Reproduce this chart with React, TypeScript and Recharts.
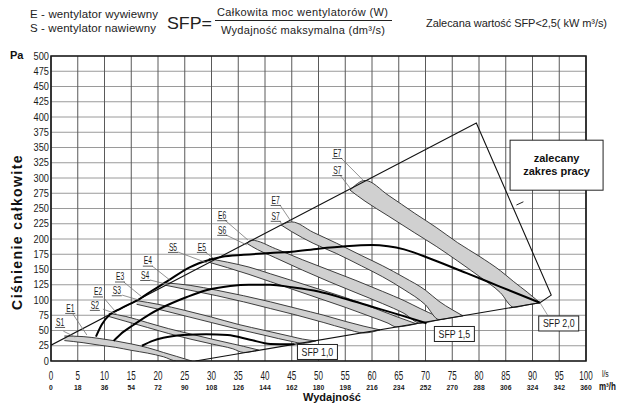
import React from 'react';
import {
  ComposedChart,
  Line,
  Area,
  XAxis,
  YAxis,
  CartesianGrid,
  ReferenceLine,
  ReferenceDot,
  ReferenceArea,
} from 'recharts';

// ---------- axis data ----------
const flowTicks = [0, 5, 10, 15, 20, 25, 30, 35, 40, 45, 50, 55, 60, 65, 70, 75, 80, 85, 90, 95, 100];
const flowM3h = ['0', '18', '36', '54', '72', '90', '108', '126', '144', '162', '180', '198', '216', '234', '252', '270', '288', '306', '324', '342', '360'];
const pressureTicks = [0, 25, 50, 75, 100, 125, 150, 175, 200, 225, 250, 275, 300, 325, 350, 375, 400, 425, 450, 475, 500];

// ---------- recommended working range boundary ----------
const rangeBoundary = [
  { x: 0, y: 26 },
  { x: 79.5, y: 390 },
  { x: 93.5, y: 108 },
  { x: 91.4, y: 95.5 },
  { x: 27, y: 0 },
];
const boundaryMark = [[87.0, 255.7], [88.3, 261]];
const sfp20Leader = [[91.4, 95.5], [92.9, 74]];

// ---------- SFP iso-lines ----------
const sfp20 = [
  { x: 8.4, y: 40 }, { x: 9.5, y: 60 }, { x: 11, y: 76 }, { x: 13, y: 86 }, { x: 16.6, y: 102 },
  { x: 19, y: 116 }, { x: 21.6, y: 130 }, { x: 26, y: 154 }, { x: 29.7, y: 166 }, { x: 32, y: 171 },
  { x: 36, y: 174 }, { x: 41, y: 177 }, { x: 45, y: 179 }, { x: 50, y: 184 }, { x: 55, y: 188 },
  { x: 60, y: 190 }, { x: 63, y: 188 }, { x: 66, y: 183 }, { x: 71.4, y: 166 }, { x: 77.7, y: 144 },
  { x: 83.9, y: 122 }, { x: 91.4, y: 95.5 },
];
const sfp15 = [
  { x: 11.7, y: 33 }, { x: 13, y: 44 }, { x: 15.4, y: 59 }, { x: 18.5, y: 77 }, { x: 21.6, y: 91 },
  { x: 25.4, y: 105 }, { x: 29, y: 116 }, { x: 33.5, y: 123 }, { x: 37, y: 125 }, { x: 41, y: 125 },
  { x: 45, y: 121 }, { x: 50, y: 114 }, { x: 55, y: 102 }, { x: 60, y: 89 }, { x: 65, y: 76 }, { x: 70.2, y: 62 },
];
const sfp10 = [
  { x: 17, y: 25 }, { x: 19, y: 33 }, { x: 21, y: 38 }, { x: 24.7, y: 42.5 }, { x: 29, y: 44 },
  { x: 33, y: 42.5 }, { x: 37.2, y: 35 }, { x: 41, y: 28 }, { x: 45.5, y: 27.5 },
];

// ---------- fan curve bands (S lower edge, E upper edge) ----------
const band1 = [
  { x: 2.5, r: [33.5, 41] }, { x: 6, r: [30, 40] }, { x: 9, r: [26, 37] }, { x: 12, r: [22.5, 33] },
  { x: 15, r: [17.5, 28] }, { x: 18, r: [13, 22] }, { x: 21, r: [7, 14] }, { x: 23.5, r: [0, 7.5] }, { x: 26.3, r: [0, 0] },
];
const band2 = [
  { x: 10.8, r: [73, 78] }, { x: 14, r: [65, 73] }, { x: 18, r: [55, 63] }, { x: 22, r: [45, 53] },
  { x: 26, r: [36, 44.5] }, { x: 30, r: [28, 36] }, { x: 34, r: [20, 28] }, { x: 36, r: [14, 24] }, { x: 38.8, r: [18, 18] },
];
const band3 = [
  { x: 16, r: [93, 99] }, { x: 20, r: [85, 93] }, { x: 25, r: [74, 83] }, { x: 30, r: [63, 72] },
  { x: 35, r: [52, 60] }, { x: 40, r: [42, 50] }, { x: 45, r: [32, 40] }, { x: 47, r: [29, 36] }, { x: 49.5, r: [33, 33] },
];
const band4 = [
  { x: 21.5, r: [124, 128] }, { x: 26, r: [116, 124] }, { x: 31, r: [107, 116] }, { x: 36, r: [97, 107] },
  { x: 41, r: [86, 97] }, { x: 46, r: [75, 86] }, { x: 51, r: [63, 75] }, { x: 55, r: [53, 65] },
  { x: 58.5, r: [46, 57] }, { x: 61.5, r: [51, 51] },
];
const band5 = [
  { x: 29.5, r: [162, 168] }, { x: 33, r: [153, 162] }, { x: 37, r: [142, 154] }, { x: 41, r: [130, 143] },
  { x: 45, r: [118, 132] }, { x: 50, r: [103, 118] }, { x: 55, r: [88, 104] }, { x: 60, r: [72, 88] },
  { x: 63, r: [62, 78] }, { x: 64.5, r: [56, 73] }, { x: 68.3, r: [61, 61] },
];
const band6 = [
  { x: 36.6, r: [193, 193] }, { x: 37.5, r: [188, 198] }, { x: 42, r: [169, 184] }, { x: 47, r: [149, 166] },
  { x: 52, r: [130, 149] }, { x: 57, r: [112, 132] }, { x: 62, r: [94, 114] }, { x: 66, r: [78, 99] },
  { x: 69, r: [62, 86] }, { x: 72, r: [66.5, 74] }, { x: 73.5, r: [69, 69] },
];
const band7a = [
  { x: 43, r: [223, 223] }, { x: 45, r: [212, 228] }, { x: 49, r: [193, 211] }, { x: 53.4, r: [176, 193] },
  { x: 58, r: [156, 173] }, { x: 62, r: [138, 156] }, { x: 66, r: [117, 137] }, { x: 70, r: [92, 116] },
  { x: 72.5, r: [68, 98] }, { x: 75, r: [71, 84] }, { x: 77, r: [74, 74] },
];
const band7b = [
  { x: 55.9, r: [280, 280] }, { x: 58.7, r: [262, 296] }, { x: 63, r: [238, 272] }, { x: 68, r: [210, 242] },
  { x: 72, r: [188, 219] }, { x: 76, r: [164, 194] }, { x: 80, r: [139, 172] }, { x: 84, r: [112, 148] },
  { x: 86.5, r: [88, 130] }, { x: 89, r: [92, 113] }, { x: 91.4, r: [95.5, 95.5] },
];
const bands = [band1, band2, band3, band4, band5, band6, band7a, band7b];

// ---------- fan labels (text position + leader line) ----------
const fanLabels = ['S1', 'E1', 'E2', 'S2', 'E3', 'S3', 'E4', 'S4', 'S5', 'E5', 'E6', 'S6', 'E7', 'S7', 'E7', 'S7'];
const fanLabelPos = [
  [1.7, 64], [3.6, 87], [8.8, 114], [8.2, 92], [12.9, 138.5], [12.3, 116], [18.1, 164.5], [17.6, 141],
  [22.8, 187], [28.2, 187], [32, 239], [32, 215], [42, 264], [42, 238], [53.5, 341], [53.5, 313],
];
const fanLeaders = [
  [[2.3, 49], [4.5, 39.3]], [[4.1, 77], [6.7, 42.6]], [[9.9, 103], [11.8, 83.6]], [[9.7, 85], [12.3, 77]],
  [[13.6, 129.5], [17, 105]], [[13.3, 108], [16.4, 100]], [[18.9, 155.7], [22.2, 132.8]], [[18.5, 132.8], [22.2, 124.6]],
  [[23.7, 178.7], [29.2, 160.7]], [[28.8, 178.7], [30.3, 168.9]], [[32.5, 231], [36.8, 198.4]], [[32.7, 206.6], [36.6, 190.2]],
  [[42.8, 255.7], [44.7, 231]], [[42.8, 229.5], [43.2, 223]], [[54.2, 332.8], [58.3, 296.7]], [[54, 305], [55.9, 283.6]],
];

// ---------- SFP boxes ----------
const sfpBoxText = ['SFP 1,0', 'SFP 1,5', 'SFP 2,0'];
const sfpBoxPos = [[49.8, 14.8], [75.4, 44.3], [94.9, 61.5]];
const rangeNote = ['zalecany', 'zakres pracy'];
const rangeNotePos = [94.5, 321];

// ---------- styling ----------
const FONT = "'Liberation Sans', Arial, Helvetica, sans-serif";
const BAND_FILL = '#d0d0d0';
const EDGE = '#2a2a2a';

function CondText(props: any) {
  const { x, y, size, anchor = 'middle', sx = 0.75, weight = 'normal', fill = '#1a1a1a', children } = props;
  return (
    <text
      transform={`translate(${x},${y}) scale(${sx},1)`}
      textAnchor={anchor}
      fontSize={size}
      fontFamily={FONT}
      fontWeight={weight}
      fill={fill}
    >
      {children}
    </text>
  );
}

const renderXTick = (props: any) => {
  const { x, payload } = props;
  const v = payload.value;
  const i = flowTicks.indexOf(v);
  return (
    <g key={'xt' + v}>
      <CondText x={x} y={380} size={13} sx={0.62}>{v}</CondText>
      <CondText x={x} y={389.5} size={8} sx={0.85} weight="bold">{flowM3h[i]}</CondText>
    </g>
  );
};

const renderYTick = (props: any) => {
  const { y, payload } = props;
  return (
    <g key={'yt' + payload.value}>
      <CondText x={49} y={y + 3.5} size={10.5} sx={0.88} anchor="end">{payload.value}</CondText>
    </g>
  );
};

const makeTag = (text: string) => (p: any) => {
  const { cx, cy } = p;
  return (
    <g>
      <CondText x={cx} y={cy + 3.7} size={10.5} sx={0.64}>{text}</CondText>
      <line x1={cx - 5} x2={cx + 5} y1={cy + 5.5} y2={cy + 5.5} stroke="#333" strokeWidth={0.8} />
    </g>
  );
};

const makeBox = (text: string) => (p: any) => {
  const { cx, cy } = p;
  const w = 40;
  const h = 15;
  return (
    <g>
      <rect x={cx - w / 2} y={cy - h / 2} width={w} height={h} fill="#fff" stroke="#222" strokeWidth={1} />
      <CondText x={cx} y={cy + 4} size={11} sx={0.8}>{text}</CondText>
    </g>
  );
};

const NoteBox = (p: any) => {
  const { cx, cy } = p;
  const w = 93;
  const h = 50;
  return (
    <g>
      <rect x={cx - w / 2} y={cy - h / 2} width={w} height={h} fill="#fff" stroke="#222" strokeWidth={1} />
      <text x={cx} y={cy - 3.5} textAnchor="middle" fontSize={11} fontWeight="bold" fontFamily={FONT} fill="#111">{rangeNote[0]}</text>
      <text x={cx} y={cy + 9.5} textAnchor="middle" fontSize={11} fontWeight="bold" fontFamily={FONT} fill="#111">{rangeNote[1]}</text>
    </g>
  );
};

export default function App() {
  return (
    <div style={{ position: 'absolute', left: 0, top: 0, width: 619, height: 403, background: '#fff' }}>
      <ComposedChart width={619} height={403} margin={{ top: 56, right: 33, bottom: 12, left: 21 }}>
        <CartesianGrid horizontal={true} vertical={false} stroke="#9a9a9a" strokeWidth={1} />
        <CartesianGrid horizontal={false} vertical={true} stroke="#5a5a5a" strokeWidth={1} />
        <XAxis
          dataKey="x"
          type="number"
          domain={[0, 100]}
          ticks={flowTicks}
          interval={0}
          height={30}
          tickLine={false}
          axisLine={false}
          tick={renderXTick}
          allowDataOverflow
        />
        <YAxis
          type="number"
          domain={[0, 500]}
          ticks={pressureTicks}
          interval={0}
          width={30}
          tickLine={false}
          axisLine={false}
          tick={renderYTick}
          allowDataOverflow
        />
        {bands.map((b, i) => (
          <Area
            key={'band' + i}
            data={b}
            dataKey="r"
            type="monotone"
            fill={BAND_FILL}
            fillOpacity={1}
            stroke={EDGE}
            strokeWidth={0.9}
            isAnimationActive={false}
            dot={false}
            activeDot={false}
          />
        ))}
        <Line data={rangeBoundary} dataKey="y" type="linear" stroke="#111" strokeWidth={1.1} dot={false} isAnimationActive={false} />
        <Line data={sfp20} dataKey="y" type="monotone" stroke="#000" strokeWidth={2} dot={false} isAnimationActive={false} />
        <Line data={sfp15} dataKey="y" type="monotone" stroke="#000" strokeWidth={2} dot={false} isAnimationActive={false} />
        <Line data={sfp10} dataKey="y" type="monotone" stroke="#000" strokeWidth={2} dot={false} isAnimationActive={false} />
        <ReferenceLine
          segment={[{ x: boundaryMark[0][0], y: boundaryMark[0][1] }, { x: boundaryMark[1][0], y: boundaryMark[1][1] }]}
          stroke="#222"
          strokeWidth={1}
        />
        <ReferenceLine
          segment={[{ x: sfp20Leader[0][0], y: sfp20Leader[0][1] }, { x: sfp20Leader[1][0], y: sfp20Leader[1][1] }]}
          stroke="#888"
          strokeWidth={0.8}
        />
        {fanLeaders.map((s, i) => (
          <ReferenceLine
            key={'ld' + i}
            segment={[{ x: s[0][0], y: s[0][1] }, { x: s[1][0], y: s[1][1] }]}
            stroke="#777"
            strokeWidth={0.8}
          />
        ))}
        {fanLabels.map((t, i) => (
          <ReferenceDot key={'lb' + i} x={fanLabelPos[i][0]} y={fanLabelPos[i][1]} r={0} shape={makeTag(t)} ifOverflow="visible" />
        ))}
        {sfpBoxText.map((t, i) => (
          <ReferenceDot key={'bx' + i} x={sfpBoxPos[i][0]} y={sfpBoxPos[i][1]} r={0} shape={makeBox(t)} ifOverflow="visible" />
        ))}
        <ReferenceDot x={rangeNotePos[0]} y={rangeNotePos[1]} r={0} shape={NoteBox} ifOverflow="visible" />
        <ReferenceArea x1={0} x2={100} y1={0} y2={500} fill="none" stroke="#1a1a1a" strokeWidth={1.6} ifOverflow="visible" />
      </ComposedChart>
      <svg width={619} height={403} style={{ position: 'absolute', left: 0, top: 0, pointerEvents: 'none' }}>
        <text x={30} y={18} fontSize={11.5} textLength={128} lengthAdjust="spacing" fontFamily={FONT} fill="#222">E - wentylator wywiewny</text>
        <text x={30} y={32} fontSize={11.5} textLength={126} lengthAdjust="spacing" fontFamily={FONT} fill="#222">S - wentylator nawiewny</text>
        <text x={167} y={29} fontSize={17} textLength={45} lengthAdjust="spacingAndGlyphs" fontFamily={FONT} fill="#222">SFP=</text>
        <text x={217} y={16} fontSize={11} textLength={171} lengthAdjust="spacing" fontFamily={FONT} fill="#222">Całkowita moc wentylatorów (W)</text>
        <line x1={215} x2={392} y1={20.5} y2={20.5} stroke="#222" strokeWidth={1} />
        <text x={221} y={34} fontSize={11} textLength={164} lengthAdjust="spacing" fontFamily={FONT} fill="#222">Wydajność maksymalna (dm³/s)</text>
        <text x={426} y={27} fontSize={11} textLength={181} lengthAdjust="spacing" fontFamily={FONT} fill="#222">Zalecana wartość SFP&lt;2,5( kW m³/s)</text>
        <text x={10} y={59} fontSize={11} fontWeight="bold" fontFamily={FONT} fill="#111">Pa</text>
        <text transform="translate(22,232) rotate(-90)" textAnchor="middle" fontSize={14} letterSpacing={1.4} fontWeight="bold" fontFamily={FONT} fill="#111">Ciśnienie całkowite</text>
        <text x={332} y={401} textAnchor="middle" fontSize={11} fontWeight="bold" fontFamily={FONT} fill="#111">Wydajność</text>
        <text transform="translate(602,377) scale(0.75,1)" fontSize={9} fontFamily={FONT} fill="#111">l/s</text>
        <text transform="translate(599,390) scale(0.8,1)" fontSize={10} fontWeight="bold" fontFamily={FONT} fill="#111">m³/h</text>
      </svg>
    </div>
  );
}
